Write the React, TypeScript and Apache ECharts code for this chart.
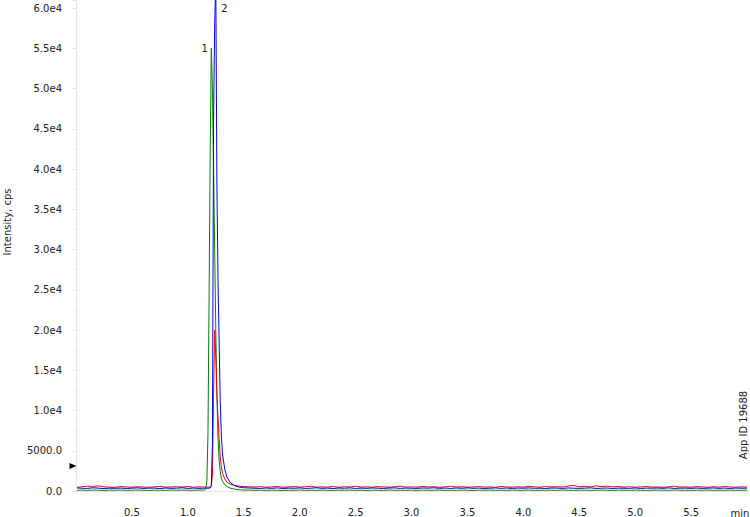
import React, { useEffect, useRef } from "react";
import * as echarts from "echarts";

// retention time (min)
const times = [
  0.01, 0.05, 0.1, 0.15, 0.2, 0.25, 0.3, 0.35, 0.4, 0.45, 0.5, 0.55, 0.6, 0.65, 0.7, 0.75, 0.8, 0.85, 0.9, 0.95, 1.0, 1.05, 1.1, 1.15,
  1.16, 1.17, 1.18, 1.19, 1.2, 1.21, 1.22, 1.23, 1.24, 1.25, 1.26, 1.27, 1.28, 1.29, 1.3, 1.31, 1.33, 1.35, 1.38, 1.42, 1.46,
  1.5, 1.55, 1.6, 1.65, 1.7, 1.75, 1.8, 1.85, 1.9, 1.95, 2.0, 2.05, 2.1, 2.15, 2.2, 2.25, 2.3, 2.35, 2.4, 2.45,
  2.5, 2.55, 2.6, 2.65, 2.7, 2.75, 2.8, 2.85, 2.9, 2.95, 3.0, 3.05, 3.1, 3.15, 3.2, 3.25, 3.3, 3.35, 3.4, 3.45,
  3.5, 3.55, 3.6, 3.65, 3.7, 3.75, 3.8, 3.85, 3.9, 3.95, 4.0, 4.05, 4.1, 4.15, 4.2, 4.25, 4.3, 4.35, 4.4, 4.45,
  4.5, 4.55, 4.6, 4.65, 4.7, 4.75, 4.8, 4.85, 4.9, 4.95, 5.0, 5.05, 5.1, 5.15, 5.2, 5.25, 5.3, 5.35, 5.4, 5.45,
  5.5, 5.55, 5.6, 5.65, 5.7, 5.75, 5.8, 5.85, 5.9, 5.95, 6.0,
];

const greenTrace = [
  90, 110, 80, 120, 100, 70, 110, 90, 130, 80, 100, 120, 90, 70, 110, 100, 80, 120, 90, 110, 100, 80, 120, 110,
  250, 1200, 7000, 24000, 42000, 55000, 50000, 40000, 30000, 20000, 12000, 6500, 3800, 2400, 1600, 1200, 800, 550, 350, 220, 150,
  120, 110, 90, 100, 80, 110, 95, 70, 105, 90, 120, 85, 100, 75, 110, 95, 80, 105, 90, 115,
  85, 100, 70, 110, 95, 80, 120, 90, 100, 85, 105, 75, 110, 90, 95, 120, 80, 100, 85, 110,
  90, 70, 105, 95, 115, 80, 100, 90, 110, 85, 95, 120, 75, 100, 90, 105, 80, 115, 95, 85,
  100, 110, 75, 95, 120, 90, 80, 105, 100, 85, 115, 90, 70, 100, 110, 95, 85, 120, 90, 100,
  80, 105, 95, 115, 85, 100, 90, 110, 80, 95, 100,
];

const blueTrace = [
  380, 340, 320, 400, 360, 300, 350, 330, 370, 310, 350, 390, 320, 350, 360, 310, 370, 330, 350, 400, 320, 360, 330, 350,
  330, 350, 340, 360, 380, 700, 6000, 46000, 58000, 63000, 38000, 26000, 18500, 11000, 6800, 4600, 2700, 1700, 1050, 650, 480,
  400, 370, 340, 320, 370, 330, 390, 310, 360, 340, 380, 320, 350, 400, 330, 360, 310, 370, 340, 390,
  320, 360, 330, 380, 350, 310, 370, 390, 330, 360, 340, 320, 380, 350, 400, 330, 360, 320, 370, 340,
  390, 330, 360, 310, 350, 380, 330, 370, 320, 360, 340, 390, 330, 350, 310, 370, 360, 320, 380, 340,
  330, 360, 390, 320, 350, 370, 310, 360, 340, 330, 380, 320, 360, 350, 370, 330, 390, 320, 350, 360,
  330, 370, 320, 350, 380, 330, 360, 320, 370, 340, 360,
];

const redTrace = [
  460, 520, 600, 560, 640, 510, 480, 450, 560, 500, 470, 540, 490, 460, 520, 580, 470, 500, 530, 480, 560, 460, 520, 490,
  480, 470, 500, 480, 510, 600, 2000, 12000, 20000, 16500, 12000, 9000, 6500, 4300, 3000, 2200, 1500, 1100, 850, 680, 600,
  560, 520, 480, 540, 470, 510, 580, 460, 500, 550, 480, 530, 600, 470, 510, 480, 560, 460, 530, 500,
  590, 480, 510, 470, 550, 500, 460, 530, 610, 480, 510, 470, 570, 500, 530, 460, 510, 590, 480, 530,
  470, 500, 550, 480, 510, 460, 570, 500, 470, 530, 480, 590, 510, 470, 550, 500, 530, 480, 620, 680,
  520, 580, 500, 640, 540, 600, 510, 560, 480, 530, 470, 510, 560, 480, 500, 460, 530, 590, 480, 510,
  470, 550, 500, 460, 530, 480, 570, 500, 470, 510, 490,
];

// peak annotations: [time, intensity]
const peak1 = [1.21, 55000];
const peak2 = [1.25, 60000];
const thresholdMarker = [0, 3100];

const xLabelSuffix = "min";
const yAxisTitle = "Intensity, cps";
const sideNote = "App ID 19688";

const FONT = "DejaVu Sans";

export default function App() {
  const ref = useRef<HTMLDivElement>(null);

  useEffect(() => {
    if (!ref.current) return;
    const chart = echarts.init(ref.current, undefined, { renderer: "svg" });
    const mk = (vals: number[]) => times.map((t, i) => [t, vals[i]]);
    const lineSeries = (name: string, vals: number[], color: string, extra: any = {}) => ({
      type: "line",
      name,
      data: mk(vals),
      showSymbol: false,
      symbol: "none",
      clip: true,
      lineStyle: { width: 1, color },
      itemStyle: { color },
      ...extra,
    });

    chart.setOption({
      animation: false,
      backgroundColor: "#ffffff",
      grid: { left: 76, right: 0, top: 0, bottom: 26 },
      xAxis: {
        type: "value",
        min: 0,
        max: 6,
        interval: 0.5,
        axisLine: { show: true, lineStyle: { color: "#e6e6e6" } },
        axisTick: { show: true, length: 3, lineStyle: { color: "#e0e0e0" } },
        splitLine: { show: false },
        axisLabel: {
          margin: 16,
          color: "#222",
          fontFamily: FONT,
          fontSize: 10,
          formatter: (v: number) => (v <= 0 || v >= 6 ? "" : v.toFixed(1)),
        },
      },
      yAxis: {
        type: "value",
        min: 0,
        max: 61000,
        interval: 5000,
        axisLine: { show: true, lineStyle: { color: "#e6e6e6" } },
        axisTick: { show: true, length: 3, lineStyle: { color: "#e0e0e0" } },
        minorTick: { show: true, splitNumber: 2, length: 2, lineStyle: { color: "#e6e6e6" } },
        splitLine: { show: false },
        axisLabel: {
          margin: 14,
          color: "#222",
          fontFamily: FONT,
          fontSize: 10,
          formatter: (v: number) => {
            if (v % 5000 !== 0) return "";
            if (v === 0) return "0.0";
            if (v < 10000) return v.toFixed(1);
            return (v / 10000).toFixed(1) + "e4";
          },
        },
      },
      graphic: [
        {
          type: "text",
          x: 7,
          y: 222,
          rotation: Math.PI / 2,
          style: { text: yAxisTitle, fill: "#222", font: `10px "${FONT}"`, align: "center", verticalAlign: "middle" },
        },
        {
          type: "text",
          x: 743,
          y: 425,
          rotation: Math.PI / 2,
          style: { text: sideNote, fill: "#222", font: `10px "${FONT}"`, align: "center", verticalAlign: "middle" },
        },
        {
          type: "text",
          x: 740,
          y: 513,
          style: { text: xLabelSuffix, fill: "#222", font: `10px "${FONT}"`, align: "center", verticalAlign: "middle" },
        },
      ],
      series: [
        lineSeries("green", greenTrace, "#008000", {
          markPoint: {
            symbol: "circle",
            symbolSize: 1,
            itemStyle: { color: "rgba(0,0,0,0)" },
            label: { show: true, position: "left", distance: 3, color: "#222", fontFamily: FONT, fontSize: 10, formatter: "1" },
            data: [{ coord: peak1 }],
          },
        }),
        lineSeries("red", redTrace, "#ff0000", {
          markPoint: {
            symbol: "triangle",
            symbolSize: [6, 7],
            symbolRotate: -90,
            symbolOffset: [-3, 0],
            itemStyle: { color: "#000" },
            label: { show: false },
            data: [{ coord: thresholdMarker }],
          },
        }),
        lineSeries("blue", blueTrace, "#0000ff", {
          markPoint: {
            symbol: "circle",
            symbolSize: 1,
            itemStyle: { color: "rgba(0,0,0,0)" },
            label: { show: true, position: "right", distance: 5, color: "#222", fontFamily: FONT, fontSize: 10, formatter: "2" },
            data: [{ coord: peak2 }],
          },
        }),
      ],
    });

    return () => chart.dispose();
  }, []);

  return (
    <div
      ref={ref}
      style={{ position: "fixed", left: 0, top: 0, width: 750, height: 517, background: "#fff" }}
    />
  );
}
